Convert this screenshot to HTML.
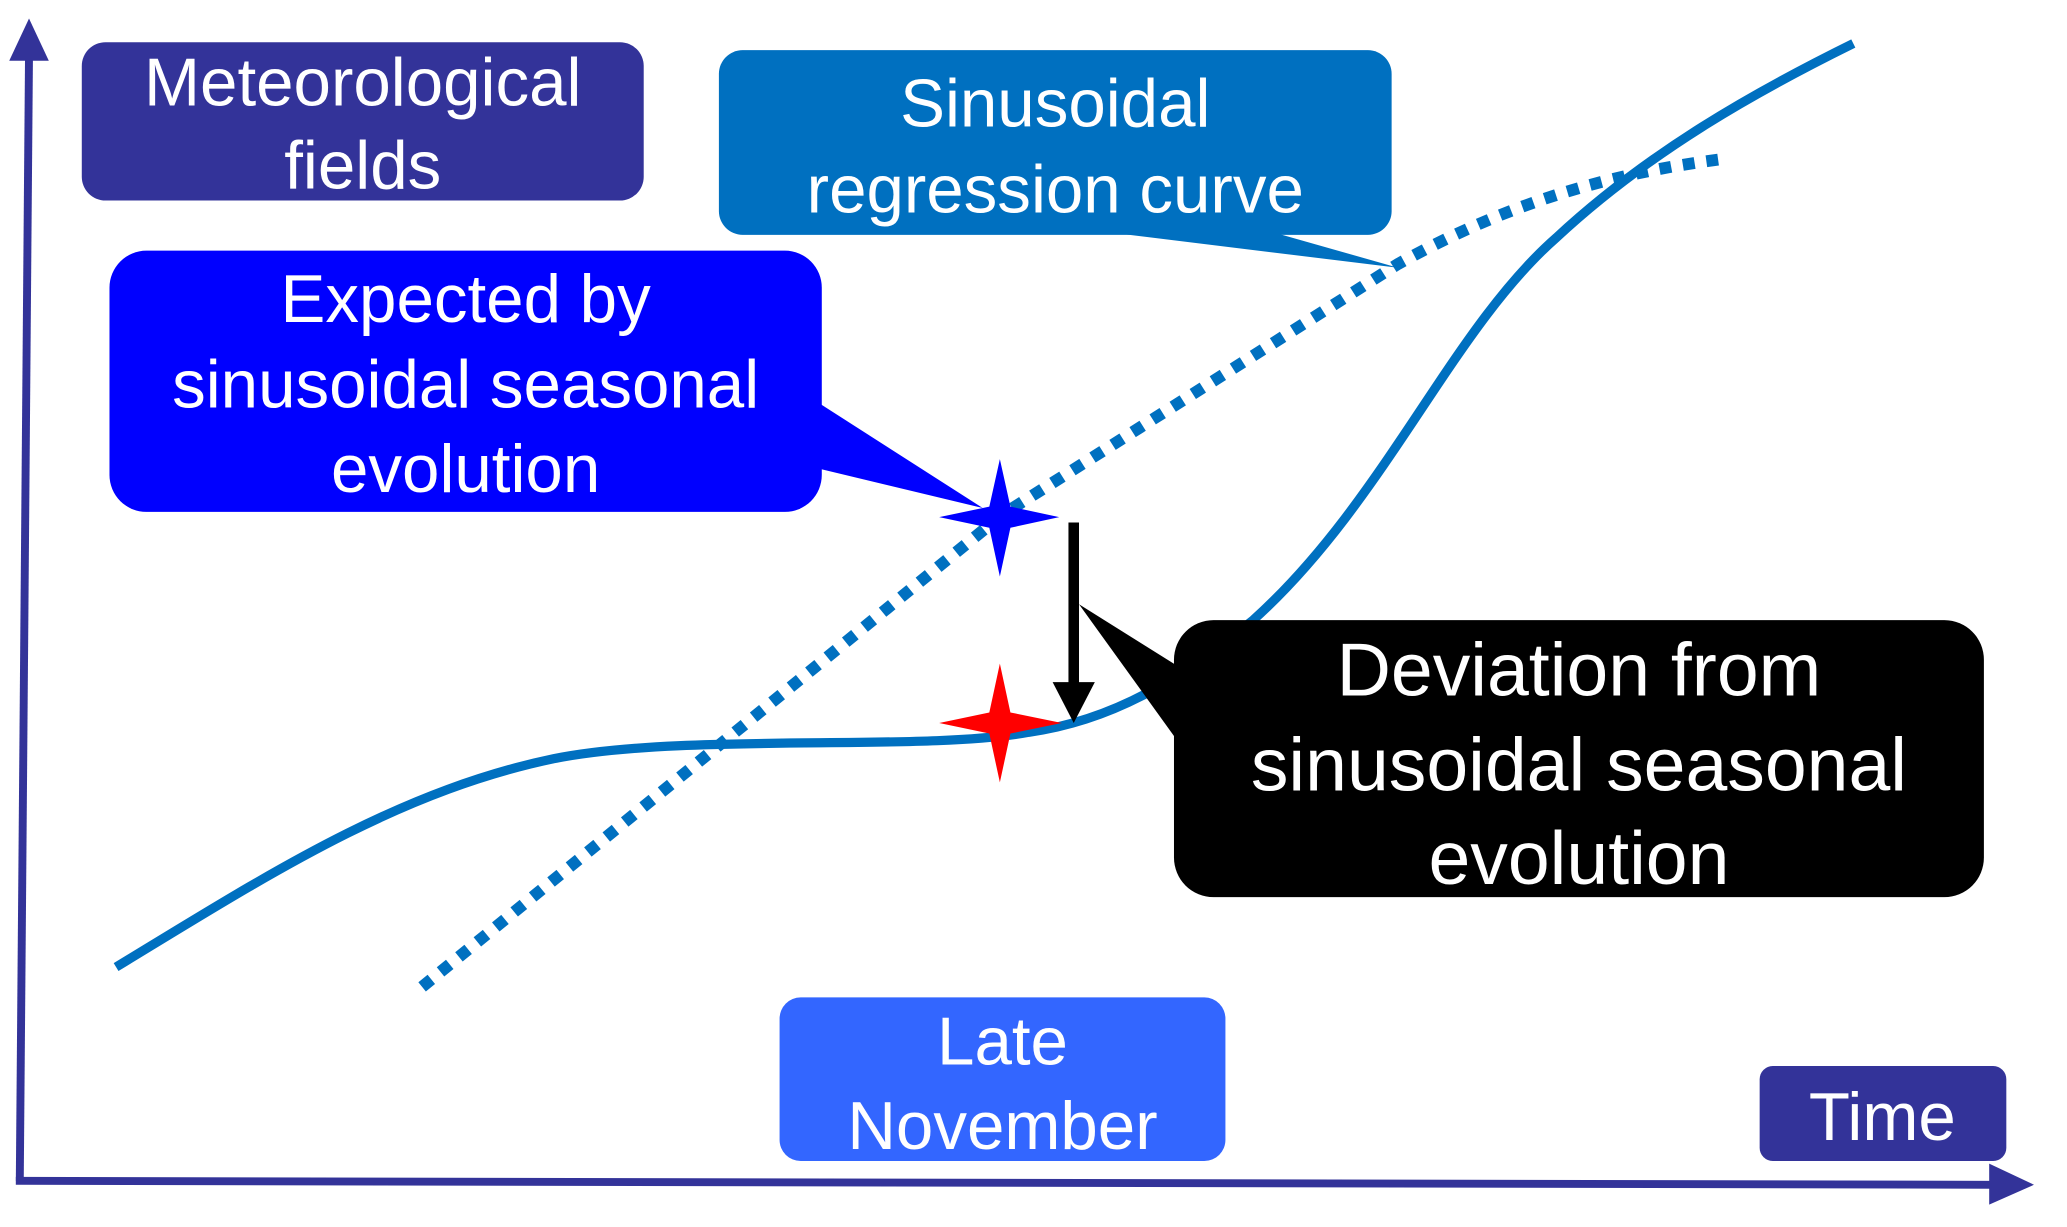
<!DOCTYPE html>
<html><head><meta charset="utf-8"><style>
html,body{margin:0;padding:0;background:#fff;}
svg{display:block;}
text{font-family:"Liberation Sans",sans-serif;fill:#fff;text-anchor:middle;}
</style></head><body>
<svg width="2067" height="1227" viewBox="0 0 1567 930" preserveAspectRatio="none" xmlns="http://www.w3.org/2000/svg">
<line x1="15" y1="895" x2="22" y2="40" stroke="#333399" stroke-width="6"/>
<polygon points="7,46 22,14 37,46" fill="#333399"/>
<line x1="12" y1="895" x2="1512" y2="898" stroke="#333399" stroke-width="6"/>
<polygon points="1508,882 1542,898 1508,913" fill="#333399"/>

<path d="M88,733 C200,665 300,600 420,575 C520,555 700,570 780,555 C850,545 900,510 950,470 C1050,380 1100,250 1180,180 C1250,115 1330,70 1405,33" fill="none" stroke="#0070C0" stroke-width="7"/>
<path d="M320,748 L760,390 L1060,200 C1150,150 1230,130 1310,120" fill="none" stroke="#0070C0" stroke-width="9" stroke-dasharray="9,9"/>

<rect x="62" y="32" width="426" height="120" rx="18" fill="#333399"/>
<text font-size="51" x="275" y="80">Meteorological</text>
<text font-size="51" x="275" y="143">fields</text>

<polygon points="840,176 1060,203 965,176" fill="#0070C0"/>
<rect x="545" y="38" width="510" height="140" rx="18" fill="#0070C0"/>
<text font-size="51" x="800" y="96">Sinusoidal</text>
<text font-size="51" x="800" y="161">regression curve</text>

<polygon points="620,305 745,385 620,355" fill="#0000FF"/>
<rect x="83" y="190" width="540" height="198" rx="28" fill="#0000FF"/>
<text font-size="51" x="353" y="244">Expected by</text>
<text font-size="51" x="353" y="309">sinusoidal seasonal</text>
<text font-size="51" x="353" y="373">evolution</text>

<polygon points="893,505 818,458 893,562" fill="#000"/>
<rect x="890" y="470" width="614" height="210" rx="30" fill="#000"/>
<text font-size="57" x="1197" y="527">Deviation from</text>
<text font-size="57" x="1197" y="599">sinusoidal seasonal</text>
<text font-size="57" x="1197" y="670">evolution</text>

<rect x="591" y="756" width="338" height="124" rx="16" fill="#3366FF"/>
<text font-size="51" x="760" y="807">Late</text>
<text font-size="51" x="760" y="871">November</text>

<rect x="1334" y="808" width="187" height="72" rx="10" fill="#333399"/>
<text font-size="51" x="1427" y="864">Time</text>

<polygon points="758,348 766,384 803,392 766,400 758,437 750,400 712,392 750,384" fill="#0000FF"/>
<polygon points="758,503 766,540 805,548 766,556 758,593 750,556 712,548 750,540" fill="#FF0000"/>

<line x1="814" y1="396" x2="814" y2="520" stroke="#000" stroke-width="8"/>
<polygon points="798,517 814,548 830,517" fill="#000"/>
</svg>
</body></html>
